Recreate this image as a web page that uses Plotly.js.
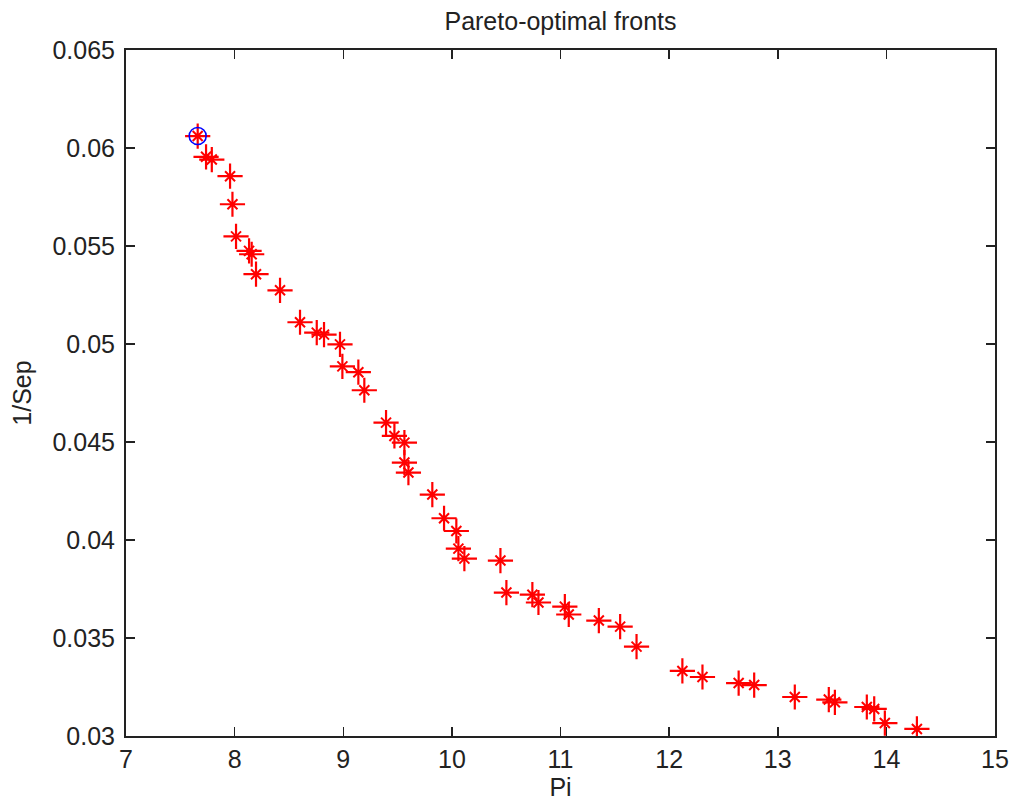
<!DOCTYPE html>
<html>
<head>
<meta charset="utf-8">
<script src="https://cdn.plot.ly/plotly-3.0.1.min.js"></script>
<style>html,body{margin:0;padding:0;background:#fff;}#chart{width:1011px;height:803px;}</style>
</head>
<body>
<div id="chart"></div>
<script>
var piValues = [7.66, 7.737, 7.79, 7.958, 7.98, 8.013, 8.133, 8.157, 8.197, 8.418, 8.602, 8.756, 8.823, 8.97, 8.992, 9.139, 9.194, 9.394, 9.471, 9.563, 9.563, 9.6, 9.82, 9.928, 10.041, 10.06, 10.115, 10.447, 10.502, 10.741, 10.797, 11.04, 11.076, 11.353, 11.549, 11.7, 12.122, 12.307, 12.64, 12.783, 13.157, 13.47, 13.526, 13.82, 13.888, 13.986, 14.281];
var invSepValues = [0.06061, 0.05955, 0.05941, 0.05856, 0.05713, 0.05549, 0.05475, 0.05458, 0.05356, 0.05274, 0.05111, 0.05058, 0.05048, 0.04998, 0.04886, 0.04856, 0.04764, 0.04599, 0.04531, 0.04497, 0.04395, 0.04344, 0.04232, 0.04111, 0.04046, 0.03956, 0.03905, 0.03895, 0.03732, 0.03721, 0.03681, 0.0366, 0.0362, 0.03589, 0.03558, 0.03456, 0.03332, 0.03301, 0.0327, 0.0326, 0.03199, 0.03186, 0.03172, 0.03148, 0.03138, 0.03066, 0.03036];
var selectedPi = [7.66];
var selectedInvSep = [0.06061];
var xTicks = [7, 8, 9, 10, 11, 12, 13, 14, 15];
var yTicks = [0.03, 0.035, 0.04, 0.045, 0.05, 0.055, 0.06, 0.065];
var yTickLabels = ['0.03', '0.035', '0.04', '0.045', '0.05', '0.055', '0.06', '0.065'];

var fontFam = 'Liberation Sans, Arial, sans-serif';
var txtColor = '#222';

var traces = [
  {x: piValues, y: invSepValues, mode: 'markers', type: 'scatter', hoverinfo: 'skip',
   marker: {symbol: 'cross-thin-open', size: 18, color: 'red', line: {color: 'red', width: 2.2}}},
  {x: piValues, y: invSepValues, mode: 'markers', type: 'scatter', hoverinfo: 'skip',
   marker: {symbol: 'x-thin-open', size: 10, color: 'red', line: {color: 'red', width: 2}}},
  {x: piValues, y: invSepValues, mode: 'markers', type: 'scatter', hoverinfo: 'skip',
   marker: {symbol: 'circle', size: 5, color: 'red'}},
  {x: selectedPi, y: selectedInvSep, mode: 'markers', type: 'scatter', hoverinfo: 'skip',
   marker: {symbol: 'circle-open', size: 17, color: 'blue', line: {color: 'blue', width: 1.6}}}
];

var axisCommon = {
  showgrid: false, zeroline: false, showline: true, linecolor: '#222', linewidth: 2,
  mirror: 'ticks', ticks: 'inside', ticklen: 9, tickwidth: 1.5, tickcolor: '#222',
  tickfont: {family: fontFam, size: 25, color: txtColor}
};

var layout = {
  width: 1011, height: 803,
  margin: {l: 126, r: 16, t: 50, b: 67},
  paper_bgcolor: '#fff', plot_bgcolor: '#fff',
  showlegend: false,
  title: {text: 'Pareto-optimal fronts', font: {family: fontFam, size: 25, color: txtColor},
          xref: 'paper', x: 0.5, xanchor: 'center', yref: 'container', y: 0.973, yanchor: 'middle'},
  xaxis: Object.assign({}, axisCommon, {
    range: [7, 15], tickvals: xTicks, ticktext: xTicks.map(String), ticklabelstandoff: 0,
    title: {text: 'Pi', font: {family: fontFam, size: 25, color: txtColor}, standoff: 6}
  }),
  yaxis: Object.assign({}, axisCommon, {
    range: [0.03, 0.065], tickvals: yTicks, ticktext: yTickLabels, ticklabelstandoff: 4,
    title: {text: '1/Sep', font: {family: fontFam, size: 25, color: txtColor}, standoff: 14}
  })
};

Plotly.newPlot('chart', traces, layout, {displayModeBar: false, staticPlot: true});
</script>
</body>
</html>
